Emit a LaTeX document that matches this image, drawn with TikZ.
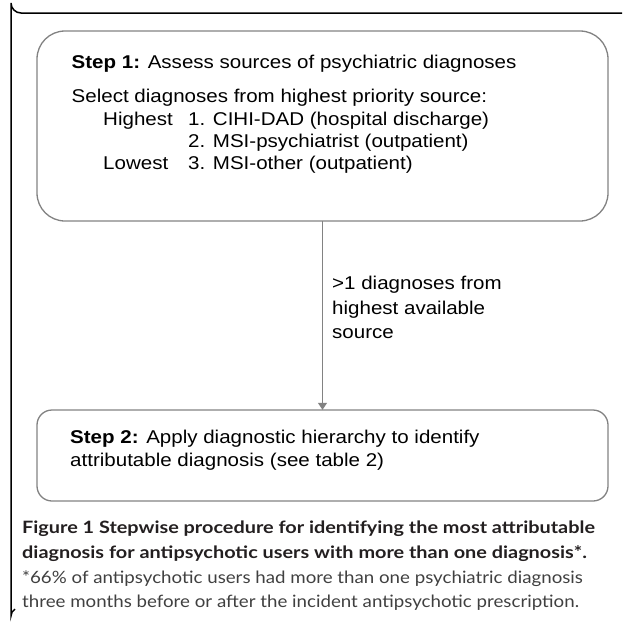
\documentclass[tikz,border=0pt]{standalone}
\usepackage{fontspec}
\setmainfont{Liberation Sans}
\newfontfamily\boxfont[FakeStretch=1.11]{Liberation Sans}
\newfontfamily\capboldfont[FakeStretch=1.168]{Lato}
\newfontfamily\capregfont[FakeStretch=1.10]{Lato}
\usetikzlibrary{arrows.meta}
\definecolor{boxgray}{HTML}{828282}
\definecolor{capdark}{HTML}{231F20}
\definecolor{captext}{HTML}{404040}
\tikzset{
  boxline/.style={draw=boxgray, line width=1.3pt},
  bodytext/.style={anchor=base west, inner sep=0pt, font=\boxfont\fontsize{18.5}{22}\selectfont},
  captbold/.style={anchor=base west, inner sep=0pt, text=capdark, font=\capboldfont\bfseries\fontsize{17}{20}\selectfont},
  captreg/.style={anchor=base west, inner sep=0pt, text=captext, font=\capregfont\fontsize{17}{20}\selectfont},
}
\begin{document}
\begin{tikzpicture}[x=1pt,y=-1pt]
\useasboundingbox (0,0) rectangle (622,624);
% outer frame
\draw[line width=1.5pt, black] (622,13) -- (21,13) arc[start angle=90, end angle=180, radius=10] -- (11,616) arc[start angle=180, end angle=240, radius=8];
% boxes
\draw[boxline, rounded corners=28pt] (37,31) rectangle (608,221);
\node[inner sep=0pt, minimum size=0pt] (b1) at (322.5,221) {};
\draw[boxline, rounded corners=15pt] (37,410) rectangle (608,501);
\node[inner sep=0pt, minimum size=0pt] (b2) at (322.5,410) {};
\draw[draw=boxgray, line width=1.3pt, -{Triangle[length=7pt,width=9pt]}] (b1) -- (b2);
% box 1 text
\node[bodytext] (s1) at (71.5,68) {\textbf{Step 1:} Assess sources of psychiatric diagnoses};
\node[bodytext] (sel) at (71.5,102) {Select diagnoses from highest priority source:};
\node[bodytext] (hi) at (103,125) {Highest};
\node[bodytext] (o1) at (188,125) {1. CIHI-DAD (hospital discharge)};
\node[bodytext] (o2) at (188,147) {2. MSI-psychiatrist (outpatient)};
\node[bodytext] (lo) at (103,169) {Lowest};
\node[bodytext] (o3) at (188,169) {3. MSI-other (outpatient)};
% label
\node[bodytext] (l1) at (332,289) {>1 diagnoses from};
\node[bodytext] (l2) at (332,314) {highest available};
\node[bodytext] (l3) at (332,338) {source};
% box 2 text
\node[bodytext] (s2) at (70,443) {\textbf{Step 2:} Apply diagnostic hierarchy to identify};
\node[bodytext] (s2b) at (70,466) {attributable diagnosis (see table 2)};
% caption
\node[captbold] (c1) at (22,533) {Figure 1 Stepwise procedure for identifying the most attributable};
\node[captbold] (c2) at (22,558) {diagnosis for antipsychotic users with more than one diagnosis*.};
\node[captreg] (c3) at (22,583) {*66\% of antipsychotic users had more than one psychiatric diagnosis};
\node[captreg] (c4) at (22,607) {three months before or after the incident antipsychotic prescription.};
\end{tikzpicture}
\end{document}
